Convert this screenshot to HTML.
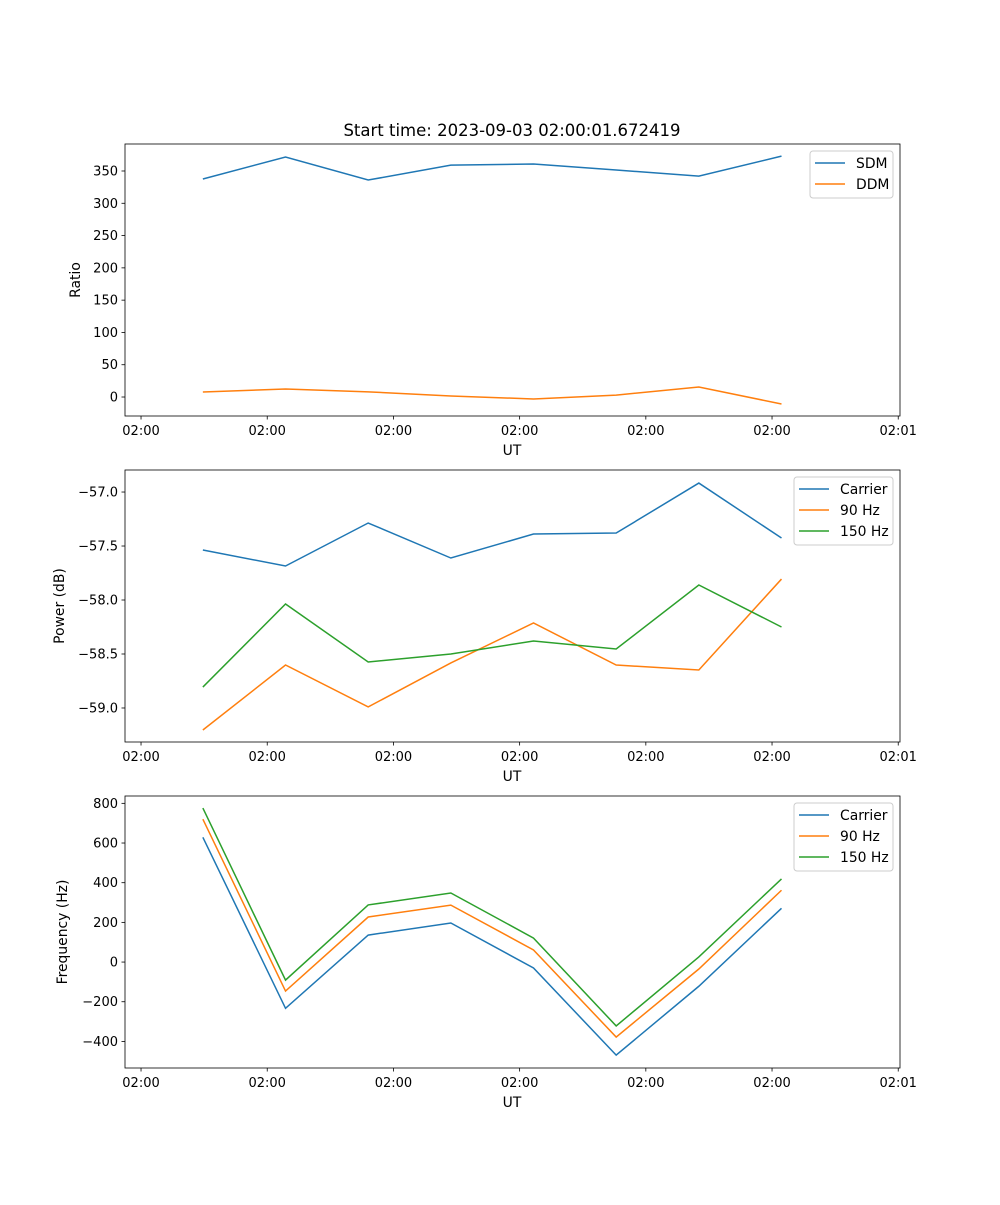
<!DOCTYPE html>
<html><head><meta charset="utf-8"><style>
body{margin:0;background:#fff}
svg text{font-family:"DejaVu Sans","Liberation Sans",sans-serif;fill:#000}
</style></head><body>
<svg id="fig" width="1000" height="1200" xmlns="http://www.w3.org/2000/svg"></svg>
<script>
const times = [4.9, 11.45, 18.0, 24.55, 31.1, 37.65, 44.2, 50.75];
const xTicks = [0, 10, 20, 30, 40, 50, 60];
const xTickLabels = ["02:00","02:00","02:00","02:00","02:00","02:00","02:01"];
const sdm = [337.6, 371.7, 336, 359, 360.8, 351.5, 342, 373];
const ddm = [7.7, 12.4, 8, 1.5, -3, 3, 15.5, -10.8];
const ratioTicks = [0, 50, 100, 150, 200, 250, 300, 350];
const pCarrier = [-57.537, -57.685, -57.287, -57.611, -57.389, -57.38, -56.917, -57.426];
const p90 = [-59.204, -58.602, -58.99, -58.583, -58.213, -58.602, -58.648, -57.806];
const p150 = [-58.806, -58.037, -58.574, -58.5, -58.38, -58.454, -57.861, -58.25];
const powerTicks = [-59.0, -58.5, -58.0, -57.5, -57.0];
const powerTickLabels = ["\u221259.0","\u221258.5","\u221258.0","\u221257.5","\u221257.0"];
const fCarrier = [629, -233, 136, 197, -30, -469, -122, 271];
const f90 = [720, -146, 227, 287, 61, -378, -35, 362];
const f150 = [776, -91, 288, 348, 121, -322, 26, 419];
const freqTicks = [-400, -200, 0, 200, 400, 600, 800];

const NS="http://www.w3.org/2000/svg";
const svg=document.getElementById('fig');
function mk(tag,attrs,parent){const e=document.createElementNS(NS,tag);for(const k in attrs)e.setAttribute(k,attrs[k]);(parent||svg).appendChild(e);return e;}
const L=125,R=900,X0=-1.27,X1=60.14;
const xs=v=>L+(v-X0)/(X1-X0)*(R-L);
const C=['#1f77b4','#ff7f0e','#2ca02c'];

function panel(name,top,bot,y0,y1,yt,ytl,series,names,ylabel,ylabx,leg){
  const g=mk('g',{});
  
  
  const ys=v=>bot-(v-y0)/(y1-y0)*(bot-top);
  series.forEach((s,i)=>{
    const p=mk('polyline',{points:s.map((v,j)=>xs(times[j])+','+ys(v)).join(' '),fill:'none',stroke:C[i],'stroke-width':1.5},g);
    
    
  });
  mk('rect',{x:L,y:top,width:R-L,height:bot-top,fill:'none',stroke:'#000','stroke-width':0.8},g);
  xTicks.forEach((t,i)=>{const x=xs(t);mk('line',{x1:x,x2:x,y1:bot,y2:bot+3.5,stroke:'#000','stroke-width':0.8},g);
    const tx=mk('text',{x:x,y:bot+19,'font-size':13,'text-anchor':'middle'},g);tx.textContent=xTickLabels[i];
    });
  yt.forEach((t,i)=>{const y=ys(t);mk('line',{x1:L-3.5,x2:L,y1:y,y2:y,stroke:'#000','stroke-width':0.8},g);
    const tx=mk('text',{x:L-7,y:y+4.5,'font-size':13,'text-anchor':'end'},g);tx.textContent=ytl?ytl[i]:String(t);
    });
  const xl=mk('text',{x:512,y:bot+39,'font-size':13.9,'text-anchor':'middle'},g);xl.textContent='UT';
  
  const cy=(top+bot)/2;
  const yl=mk('text',{x:ylabx,y:cy,'font-size':13.9,'text-anchor':'middle',transform:`rotate(-90 ${ylabx} ${cy})`},g);yl.textContent=ylabel;
  
  const lg=mk('g',{},g);
  
  mk('rect',{x:leg[0],y:top+7,width:leg[1],height:names.length*21+5,rx:3,fill:'#fff','fill-opacity':0.8,stroke:'#ccc'},lg);
  names.forEach((n,i)=>{const y=top+19+i*21;
    mk('line',{x1:leg[0]+5,x2:leg[0]+35,y1:y,y2:y,stroke:C[i],'stroke-width':1.5},lg);
    const t=mk('text',{x:leg[0]+46,y:y+5,'font-size':13.9},lg);t.textContent=n;
    });
}
const tt=mk('text',{x:512,y:136,'font-size':16.5,'text-anchor':'middle'});tt.textContent='Start time: 2023-09-03 02:00:01.672419';

panel('ratio-panel',144,416,-29.4,391.8,ratioTicks,null,[sdm,ddm],['SDM','DDM'],'Ratio',80,[810,83]);
panel('power-panel',470,742,-59.315,-56.796,powerTicks,powerTickLabels,[pCarrier,p90,p150],['Carrier','90 Hz','150 Hz'],'Power (dB)',64,[794,99]);
panel('frequency-panel',796,1068,-534,837,freqTicks,freqTicks.map(v=>v<0?'\u2212'+(-v):String(v)),[fCarrier,f90,f150],['Carrier','90 Hz','150 Hz'],'Frequency (Hz)',67,[794,99]);
</script>
</body></html>
